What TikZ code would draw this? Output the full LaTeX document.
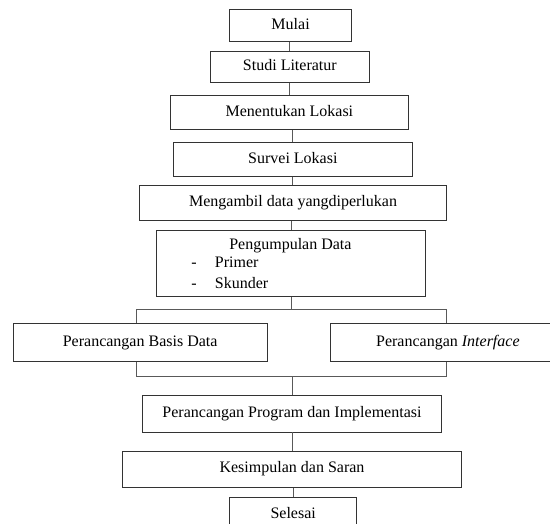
\documentclass[tikz,border=0pt]{standalone}
\usepackage{fontspec}
\setmainfont{Liberation Serif}
\begin{document}
\begin{tikzpicture}[x=1pt,y=-1pt,
  box/.style={draw=black!80, line width=0.9pt, rectangle, inner sep=0pt,
    text height=11pt, text depth=3.5pt, font=\fontsize{16}{19}\selectfont},
  txt/.style={inner sep=0pt, font=\fontsize{16}{19}\selectfont},
  conn/.style={draw=black!65, line width=0.8pt}]
\useasboundingbox (0,0) rectangle (550,524);
\node[box, minimum width=121.8pt, minimum height=32pt] (mulai) at (290.6,25.3) {Mulai};
\node[box, minimum width=158.9pt, minimum height=31pt] (studi) at (289.85,66.8) {Studi Literatur};
\node[box, minimum width=237.8pt, minimum height=34pt] (menentukan) at (289.4,112.7) {Menentukan Lokasi};
\node[box, minimum width=238.5pt, minimum height=34pt] (survei) at (292.85,159.3) {Survei Lokasi};
\node[box, minimum width=307.7pt, minimum height=35pt] (mengambil) at (293.05,203.2) {Mengambil data yangdiperlukan};
\node[box, minimum width=268.7pt, minimum height=66.6pt] (pengumpulan) at (291.15,263.6) {};
\node[txt, anchor=base] (pdata) at (290.4,250) {Pengumpulan Data};
\node[txt, anchor=base] (dash1) at (194,267.7) {-};
\node[txt, anchor=base west] (primer) at (214.7,267.7) {Primer};
\node[txt, anchor=base] (dash2) at (194,288.3) {-};
\node[txt, anchor=base west] (skunder) at (214.7,288.3) {Skunder};
\node[box, minimum width=254.3pt, minimum height=38pt] (basis) at (140.15,342.3) {Perancangan Basis Data};
\node[box, minimum width=234.2pt, minimum height=38pt] (interface) at (447.9,342.3) {Perancangan \textit{Interface}};
\node[box, minimum width=298.4pt, minimum height=36.3pt] (program) at (292,413.85) {Perancangan Program dan Implementasi};
\node[box, minimum width=338.4pt, minimum height=36.3pt] (kesimpulan) at (292,469.15) {Kesimpulan dan Saran};
\node[box, minimum width=127pt, minimum height=34pt] (selesai) at (293.2,514.7) {Selesai};
\coordinate (splitL) at (136.8,309.3);
\coordinate (splitR) at (446.5,309.3);
\coordinate (joinL) at (136.8,376);
\coordinate (joinR) at (446.5,376);
\draw[conn] (studi.north) -- (studi.north |- mulai.south);
\draw[conn] (studi.south) -- (studi.south |- menentukan.north);
\draw[conn] (survei.north) -- (survei.north |- menentukan.south);
\draw[conn] (survei.south) -- (survei.south |- mengambil.north);
\draw[conn] (pengumpulan.north) -- (pengumpulan.north |- mengambil.south);
\draw[conn] (pengumpulan.south) -- (pengumpulan.south |- splitL);
\draw[conn] (basis.north -| splitL) -- (splitL) -- (splitR) -- (interface.north -| splitR);
\draw[conn] (basis.south -| joinL) -- (joinL) -- (joinR) -- (interface.south -| joinR);
\draw[conn] (program.north) -- (program.north |- joinL);
\draw[conn] (program.south) -- (program.south |- kesimpulan.north);
\draw[conn] (selesai.north) -- (selesai.north |- kesimpulan.south);
\end{tikzpicture}
\end{document}
